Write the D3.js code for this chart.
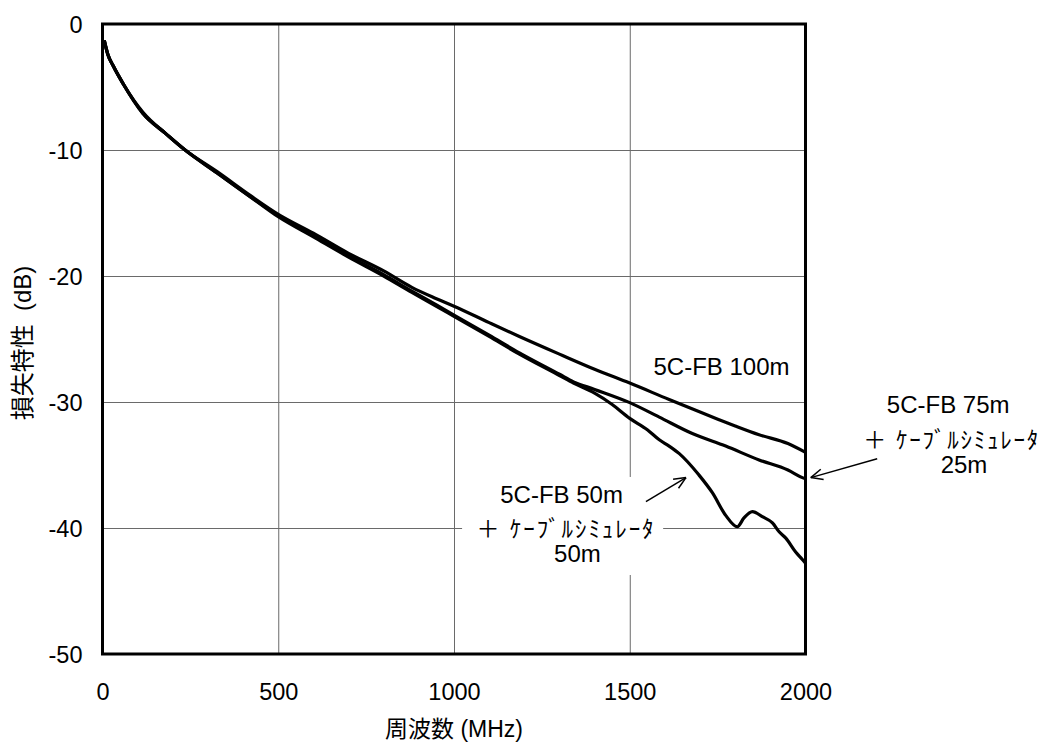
<!DOCTYPE html>
<html>
<head>
<meta charset="utf-8">
<script src="https://cdn.jsdelivr.net/npm/d3@7"></script>
<style>
  body { margin: 0; background: #fff; }
  text { font-family: "Liberation Sans", Arial, "Noto Sans CJK JP", sans-serif; fill: #000; }
</style>
</head>
<body>
<div id="chart"></div>
<script>
// tick values
var xTicks = [0, 500, 1000, 1500, 2000]
var yTicks = [0, -10, -20, -30, -40, -50]

// 5C-FB 100m
var freq100 = [5, 15, 30, 60, 115, 180, 235, 325, 420, 500, 600, 700, 800, 880, 950, 1000, 1100, 1186, 1300, 1400, 1500, 1612, 1700, 1754, 1800, 1868, 1950, 2000]
var loss100 = [-1.3, -2.4, -3.3, -4.8, -7.0, -8.7, -10.0, -11.7, -13.6, -15.1, -16.6, -18.2, -19.6, -20.9, -21.8, -22.4, -23.7, -24.8, -26.2, -27.4, -28.5, -29.8, -30.8, -31.4, -31.9, -32.6, -33.3, -34.0]

// 5C-FB 75m + simulator 25m
var freq75 = [5, 15, 30, 60, 115, 180, 235, 325, 420, 500, 600, 700, 800, 880, 950, 1000, 1100, 1186, 1300, 1340, 1400, 1500, 1584, 1678, 1773, 1868, 1950, 1991, 2000]
var loss75 = [-1.3, -2.4, -3.3, -4.8, -7.1, -8.7, -10.0, -11.8, -13.7, -15.2, -16.8, -18.4, -19.9, -21.2, -22.3, -23.1, -24.7, -26.1, -27.8, -28.4, -29.0, -30.05, -31.2, -32.5, -33.5, -34.6, -35.4, -36.0, -36.1]

// 5C-FB 50m + simulator 50m
var freq50 = [5, 15, 30, 60, 115, 180, 235, 325, 420, 500, 600, 700, 800, 880, 950, 1000, 1100, 1186, 1300, 1340, 1400, 1450, 1500, 1550, 1584, 1612, 1641, 1697, 1735, 1773, 1806, 1825, 1849, 1877, 1906, 1925, 1944, 1972, 1991, 2000]
var loss50 = [-1.3, -2.4, -3.3, -4.8, -7.1, -8.7, -10.0, -11.8, -13.7, -15.3, -16.9, -18.5, -20.0, -21.3, -22.4, -23.2, -24.8, -26.2, -27.9, -28.5, -29.3, -30.2, -31.3, -32.2, -33.0, -33.5, -34.1, -35.8, -37.2, -39.0, -39.9, -39.2, -38.7, -39.1, -39.6, -40.3, -40.8, -41.9, -42.5, -42.8]

var w = 1043
var h = 746
var plotL = 102.5, plotR = 805.5, plotT = 24, plotB = 654

var svg = d3.select("#chart")
  .append("svg")
  .attr("width", w)
  .attr("height", h)

svg.append("rect").attr("width", w).attr("height", h).attr("fill", "#fff")

var x = d3.scaleLinear().domain([0, 2000]).range([plotL, plotR])
var y = d3.scaleLinear().domain([-50, 0]).range([plotB, plotT])

// grid lines
svg.append("g")
  .attr("transform", "translate(0," + plotB + ")")
  .call(d3.axisBottom(x).tickValues(xTicks).tickSize(-(plotB - plotT)).tickFormat(""))
  .call(function(g){ g.select(".domain").remove() })
  .selectAll("line").attr("stroke", "#6a6a6a").attr("stroke-width", 1)

svg.append("g")
  .attr("transform", "translate(" + plotL + ",0)")
  .call(d3.axisLeft(y).tickValues(yTicks).tickSize(-(plotR - plotL)).tickFormat(""))
  .call(function(g){ g.select(".domain").remove() })
  .selectAll("line").attr("stroke", "#6a6a6a").attr("stroke-width", 1)

// white box behind the lower label
svg.append("rect")
  .attr("x", x(1023)).attr("y", y(-35.95))
  .attr("width", x(1595) - x(1023)).attr("height", y(-43.73) - y(-35.95))
  .attr("fill", "#fff")

// tick labels (plain hyphen as in the original)
var xg = svg.append("g")
  .attr("transform", "translate(0," + plotB + ")")
  .call(d3.axisBottom(x).tickValues(xTicks).tickSize(0).tickFormat(function(d){ return String(d) }))
xg.select(".domain").remove()
xg.selectAll("text")
  .attr("y", 46).attr("dy", 0)
  .style("font-size", "23.5px")
  .style("font-family", "'Liberation Sans', Arial, sans-serif")

var yg = svg.append("g")
  .attr("transform", "translate(" + plotL + ",0)")
  .call(d3.axisLeft(y).tickValues(yTicks).tickSize(0).tickPadding(20).tickFormat(function(d){ return String(d) }))
yg.select(".domain").remove()
yg.selectAll("text")
  .attr("dy", "0.36em")
  .style("font-size", "23.5px")
  .style("font-family", "'Liberation Sans', Arial, sans-serif")

// curves
var line = d3.line()
  .x(function(d){ return x(d[0]) })
  .y(function(d){ return y(d[1]) })
  .curve(d3.curveMonotoneX)

var series = [
  d3.zip(freq100, loss100),
  d3.zip(freq75, loss75),
  d3.zip(freq50, loss50)
]

series.forEach(function(s){
  svg.append("path")
    .attr("d", line(s))
    .attr("fill", "none")
    .attr("stroke", "#000")
    .attr("stroke-width", 3.2)
    .attr("stroke-linejoin", "round")
})

// frame
svg.append("rect")
  .attr("x", plotL).attr("y", plotT)
  .attr("width", plotR - plotL).attr("height", plotB - plotT)
  .attr("fill", "none").attr("stroke", "#000").attr("stroke-width", 3)

// axis titles
svg.append("text")
  .attr("x", (plotL + plotR) / 2).attr("y", 737)
  .attr("text-anchor", "middle")
  .style("font-size", "23px")
  .text("周波数 (MHz)")

svg.append("text")
  .attr("transform", "translate(31," + 343 + ") rotate(-90)")
  .attr("text-anchor", "middle")
  .style("font-size", "24px")
  .style("white-space", "pre")
  .text("損失特性  (dB)")

// annotations
var notes = [
  {f: 1761, v: -27.86, t: "5C-FB 100m"},
  {f: 1306, v: -38.0, t: "5C-FB 50m"},
  {f: 1316, v: -40.7, t: "＋ ｹｰﾌﾞﾙｼﾐｭﾚｰﾀ", len: 177},
  {f: 1351, v: -42.7, t: "50m"},
  {f: 2406, v: -30.85, t: "5C-FB 75m"},
  {f: 2413, v: -33.65, t: "＋ ｹｰﾌﾞﾙｼﾐｭﾚｰﾀ", len: 175},
  {f: 2451, v: -35.66, t: "25m"}
]

notes.forEach(function(n){
  var t = svg.append("text")
    .attr("x", x(n.f)).attr("y", y(n.v))
    .attr("text-anchor", "middle")
    .style("font-size", "24px")
    .text(n.t)
  if (n.len) {
    t.style("font-size", "23px")
     .attr("textLength", n.len)
     .attr("lengthAdjust", "spacing")
  }
})

// arrows: from label toward curve
var arrows = [
  {f0: 1546, v0: -37.9, f1: 1660, v1: -36.0},
  {f0: 2204, v0: -34.5, f1: 2015, v1: -36.0}
]

arrows.forEach(function(a){
  var x0 = x(a.f0), y0 = y(a.v0), x1 = x(a.f1), y1 = y(a.v1)
  var ang = Math.atan2(y1 - y0, x1 - x0)
  var hl = 13, spread = 0.42
  svg.append("line")
    .attr("x1", x0).attr("y1", y0).attr("x2", x1).attr("y2", y1)
    .attr("stroke", "#000").attr("stroke-width", 1.5)
  ;[-spread, spread].forEach(function(s){
    svg.append("line")
      .attr("x1", x1).attr("y1", y1)
      .attr("x2", x1 - hl * Math.cos(ang + s))
      .attr("y2", y1 - hl * Math.sin(ang + s))
      .attr("stroke", "#000").attr("stroke-width", 1.5)
  })
})
</script>
</body>
</html>
